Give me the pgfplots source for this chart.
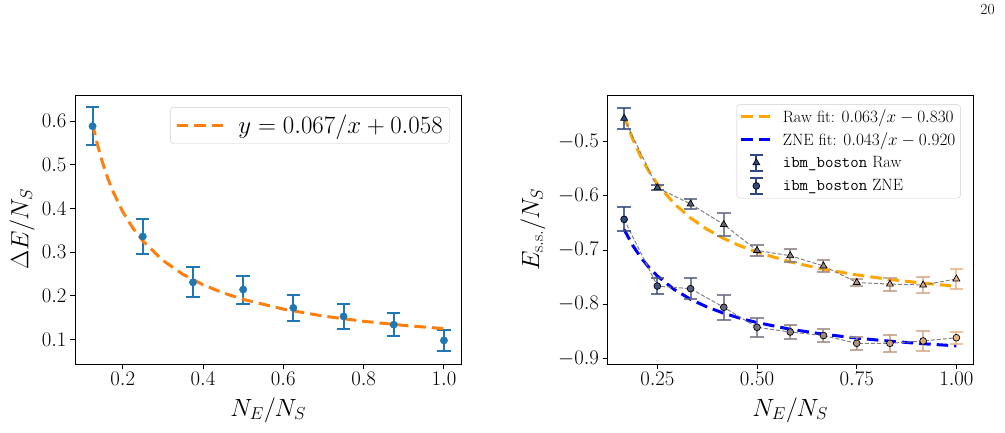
\documentclass[border=0pt]{standalone}
\usepackage{pgfplots}
\pgfplotsset{compat=1.18}

\definecolor{tabblue}{HTML}{1F77B4}
\definecolor{taborange}{HTML}{FF7F0E}
\definecolor{fitorange}{HTML}{FFA500}
\definecolor{fitblue}{HTML}{0000FF}
\definecolor{linkgray}{HTML}{808080}
\definecolor{navystart}{RGB}{46,72,130}
\definecolor{tanend}{RGB}{232,180,130}
\definecolor{legframe}{HTML}{CCCCCC}
% point colours running from navy (N_E/N_S = 1/6) to tan (N_E/N_S = 1)
\colorlet{e0}{navystart}
\colorlet{e1}{tanend!10!navystart}
\colorlet{e2}{tanend!20!navystart}
\colorlet{e3}{tanend!30!navystart}
\colorlet{e4}{tanend!40!navystart}
\colorlet{e5}{tanend!50!navystart}
\colorlet{e6}{tanend!60!navystart}
\colorlet{e7}{tanend!70!navystart}
\colorlet{e8}{tanend!80!navystart}
\colorlet{e9}{tanend!90!navystart}
\colorlet{e10}{tanend}

% gap vs. N_E/N_S
\pgfplotstableread{
x      y       e
0.125  0.5885  0.044
0.25   0.336   0.039
0.375  0.231   0.034
0.5    0.2145  0.032
0.625  0.1725  0.030
0.75   0.153   0.0295
0.875  0.134   0.027
1.0    0.098   0.024
}\gapdata

% fitted curve y = 0.067/x + 0.058
\pgfplotstableread{
x       y
0.125   0.594
0.1375  0.5453
0.15    0.5047
0.1625  0.4703
0.175   0.4409
0.2     0.393
0.225   0.3558
0.25    0.326
0.3     0.2813
0.35    0.2494
0.4     0.2255
0.45    0.2069
0.5     0.192
0.6     0.1697
0.7     0.1537
0.8     0.1418
0.9     0.1324
1.0     0.125
}\gapfit

% steady-state energy, raw
\pgfplotstableread{
x        y        e
0.16667  -0.457   0.019
0.25     -0.585   0.005
0.33333  -0.615   0.0086
0.41667  -0.653   0.021
0.5      -0.701   0.010
0.58333  -0.7105  0.012
0.66667  -0.7295  0.0115
0.75     -0.760   0.006
0.83333  -0.763   0.012
0.91667  -0.7646  0.0155
1.0      -0.7535  0.018
}\rawdata

% steady-state energy, ZNE
\pgfplotstableread{
x        y        e
0.16667  -0.6434  0.022
0.25     -0.7665  0.014
0.33333  -0.7714  0.019
0.41667  -0.8058  0.023
0.5      -0.8428  0.018
0.58333  -0.8514  0.0135
0.66667  -0.858   0.0126
0.75     -0.8723  0.012
0.83333  -0.8723  0.016
0.91667  -0.868   0.018
1.0      -0.862   0.0114
}\znedata

% fit 0.063/x - 0.830
\pgfplotstableread{
x        y
0.16667  -0.452
0.1875   -0.494
0.20833  -0.5276
0.22917  -0.5551
0.25     -0.578
0.29167  -0.614
0.33333  -0.641
0.375    -0.662
0.41667  -0.6788
0.45833  -0.6925
0.5      -0.704
0.58333  -0.722
0.66667  -0.7355
0.75     -0.746
0.83333  -0.7544
0.91667  -0.7613
1.0      -0.767
}\rawfit

% fit 0.043/x - 0.920
\pgfplotstableread{
x        y
0.16667  -0.662
0.1875   -0.6907
0.20833  -0.7136
0.22917  -0.7324
0.25     -0.748
0.29167  -0.7726
0.33333  -0.791
0.375    -0.8053
0.41667  -0.8168
0.45833  -0.8262
0.5      -0.834
0.58333  -0.8463
0.66667  -0.8555
0.75     -0.8627
0.83333  -0.8684
0.91667  -0.8731
1.0      -0.877
}\znefit

\tikzset{fitline/.style={line width=3pt, dash pattern=on 11.5pt off 6pt}}

% one row (#2) of table #1 drawn in colour #3 with marker options #4
\newcommand{\edgepoint}[4]{%
  \addplot[forget plot, only marks, mark=#4,
    mark options={draw=black, fill=#3, line width=0.7pt},
    skip coords between index={0}{#2},
    skip coords between index={\the\numexpr#2+1\relax}{11},
    error bars/.cd, y dir=both, y explicit,
    error bar style={#3, line width=2pt, opacity=0.8},
    error mark options={#3, line width=2pt, mark size=6.7pt, rotate=90, opacity=0.8}]
    table[x=x, y=y, y error=e] {#1};}

\pgfplotsset{
  panel/.style={
    scale only axis,
    height=269pt,
    axis line style={line width=0.9pt},
    tick align=outside,
    tick pos=left,
    major tick length=5pt,
    every tick/.style={black, line width=0.9pt},
    ticklabel style={font=\fontsize{22}{26}\selectfont},
    scaled ticks=false,
    every axis x label/.style={at={(axis description cs:0.5,-0.171)}, anchor=center,
      font=\fontsize{27}{32}\selectfont},
  },
}

\begin{document}
\begin{tikzpicture}
\path[use as bounding box] (0pt,0pt) rectangle (1005pt,432pt);
\node[font=\fontsize{15.5}{18}\selectfont] at (987.5pt,422pt) {20};

% ---------------- left panel ----------------
\begin{axis}[panel,
  at={(75pt,68pt)}, anchor=south west, width=386.5pt,
  xmin=0.08125, xmax=1.04375, ymin=0.044, ymax=0.66,
  xtick={0.2,0.4,0.6,0.8,1.0},
  ytick={0.1,0.2,0.3,0.4,0.5,0.6},
  xticklabel style={/pgf/number format/fixed, /pgf/number format/fixed zerofill, /pgf/number format/precision=1},
  yticklabel style={/pgf/number format/fixed, /pgf/number format/fixed zerofill, /pgf/number format/precision=1},
  xlabel={$N_E/N_S$},
  ylabel={$\Delta E/N_S$},
  every axis y label/.style={at={(axis description cs:-0.137,0.5)}, rotate=90, anchor=center,
    font=\fontsize{27}{32}\selectfont},
  legend style={at={(axis description cs:0.970,0.955)}, anchor=north east,
    font=\fontsize{23.5}{28}\selectfont, draw=legframe, rounded corners=3pt,
    inner xsep=5pt, inner ysep=6pt, column sep=12pt},
  legend image code/.code={\draw[#1] (0pt,0pt) -- (46pt,0pt);},
]
\addplot[tabblue, only marks, mark=*, mark size=3.7pt, forget plot,
  error bars/.cd, y dir=both, y explicit,
  error bar style={tabblue, line width=2pt},
  error mark options={tabblue, line width=2pt, mark size=6.7pt, rotate=90}]
  table[x=x, y=y, y error=e] {\gapdata};
\addplot[taborange, fitline] table[x=x, y=y] {\gapfit};
\addlegendentry{$y = 0.067/x + 0.058$}
\end{axis}

% ---------------- right panel ----------------
\begin{axis}[panel,
  at={(607.5pt,68pt)}, anchor=south west, width=365.5pt,
  xmin=0.125, xmax=1.04167, ymin=-0.9105, ymax=-0.4138,
  xtick={0.25,0.5,0.75,1.0},
  ytick={-0.9,-0.8,-0.7,-0.6,-0.5},
  xticklabel style={/pgf/number format/fixed, /pgf/number format/fixed zerofill, /pgf/number format/precision=2},
  yticklabel style={/pgf/number format/fixed, /pgf/number format/fixed zerofill, /pgf/number format/precision=1},
  xlabel={$N_E/N_S$},
  ylabel={$E_{\mathrm{s.s.}}/N_S$},
  every axis y label/.style={at={(axis description cs:-0.204,0.5)}, rotate=90, anchor=center,
    font=\fontsize{27}{32}\selectfont},
  legend style={at={(axis description cs:0.966,0.965)}, anchor=north east,
    font=\fontsize{16.4}{20}\selectfont, draw=legframe, rounded corners=3pt,
    inner xsep=3pt, inner ysep=3pt, row sep=4.5pt, column sep=8pt},
  legend cell align=left,
]
\addlegendimage{legend image code/.code={\draw[fitorange, fitline] (0pt,0pt) -- (30pt,0pt);}}
\addlegendentry{Raw fit: $0.063/x - 0.830$}
\addlegendimage{legend image code/.code={\draw[fitblue, fitline] (0pt,0pt) -- (30pt,0pt);}}
\addlegendentry{ZNE fit: $0.043/x - 0.920$}
\addlegendimage{legend image code/.code={
  \draw[navystart, line width=2pt] (15pt,-8.3pt) -- (15pt,8.3pt)
    (8.3pt,-8.3pt) -- (21.7pt,-8.3pt) (8.3pt,8.3pt) -- (21.7pt,8.3pt);
  \path[draw=black, fill=navystart, line width=0.7pt] plot[mark=triangle*, mark size=4pt] coordinates {(15pt,0pt)};}}
\addlegendentry{\texttt{ibm\_boston} Raw}
\addlegendimage{legend image code/.code={
  \draw[navystart, line width=2pt] (15pt,-8.3pt) -- (15pt,8.3pt)
    (8.3pt,-8.3pt) -- (21.7pt,-8.3pt) (8.3pt,8.3pt) -- (21.7pt,8.3pt);
  \path[draw=black, fill=navystart, line width=0.7pt] plot[mark=*, mark size=3.4pt] coordinates {(15pt,0pt)};}}
\addlegendentry{\texttt{ibm\_boston} ZNE}

\addplot[fitorange, fitline, forget plot] table[x=x, y=y] {\rawfit};
\addplot[fitblue, fitline, forget plot] table[x=x, y=y] {\znefit};
\addplot[linkgray, line width=1pt, dash pattern=on 4pt off 2pt, forget plot] table[x=x, y=y] {\rawdata};
\addplot[linkgray, line width=1pt, dash pattern=on 4pt off 2pt, forget plot] table[x=x, y=y] {\znedata};

\edgepoint{\rawdata}{0}{e0}{triangle*, mark size=4pt}
\edgepoint{\rawdata}{1}{e1}{triangle*, mark size=4pt}
\edgepoint{\rawdata}{2}{e2}{triangle*, mark size=4pt}
\edgepoint{\rawdata}{3}{e3}{triangle*, mark size=4pt}
\edgepoint{\rawdata}{4}{e4}{triangle*, mark size=4pt}
\edgepoint{\rawdata}{5}{e5}{triangle*, mark size=4pt}
\edgepoint{\rawdata}{6}{e6}{triangle*, mark size=4pt}
\edgepoint{\rawdata}{7}{e7}{triangle*, mark size=4pt}
\edgepoint{\rawdata}{8}{e8}{triangle*, mark size=4pt}
\edgepoint{\rawdata}{9}{e9}{triangle*, mark size=4pt}
\edgepoint{\rawdata}{10}{e10}{triangle*, mark size=4pt}

\edgepoint{\znedata}{0}{e0}{*, mark size=3.4pt}
\edgepoint{\znedata}{1}{e1}{*, mark size=3.4pt}
\edgepoint{\znedata}{2}{e2}{*, mark size=3.4pt}
\edgepoint{\znedata}{3}{e3}{*, mark size=3.4pt}
\edgepoint{\znedata}{4}{e4}{*, mark size=3.4pt}
\edgepoint{\znedata}{5}{e5}{*, mark size=3.4pt}
\edgepoint{\znedata}{6}{e6}{*, mark size=3.4pt}
\edgepoint{\znedata}{7}{e7}{*, mark size=3.4pt}
\edgepoint{\znedata}{8}{e8}{*, mark size=3.4pt}
\edgepoint{\znedata}{9}{e9}{*, mark size=3.4pt}
\edgepoint{\znedata}{10}{e10}{*, mark size=3.4pt}
\end{axis}
\end{tikzpicture}
\end{document}
